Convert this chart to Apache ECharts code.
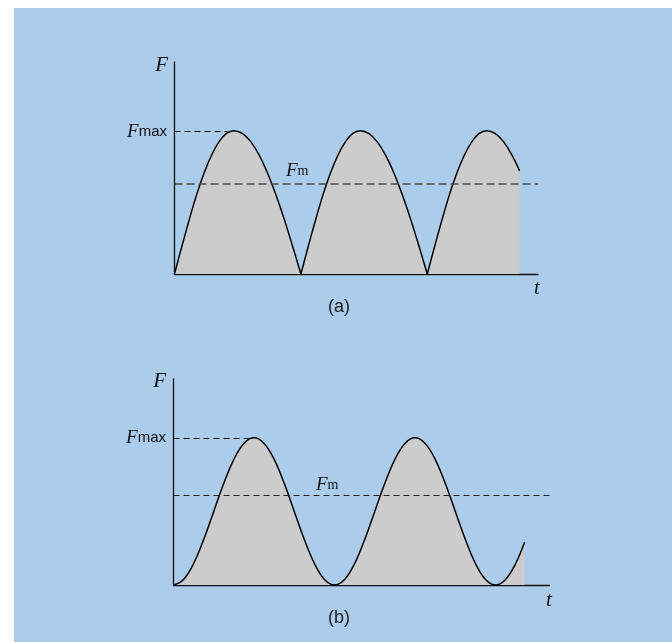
<!DOCTYPE html>
<html>
<head>
<meta charset="utf-8">
<script src="https://cdn.jsdelivr.net/npm/echarts@6/dist/echarts.min.js"></script>
<style>
  body { margin: 0; background: #fff; }
  #panel { position: absolute; left: 14px; top: 8px; width: 658px; height: 634px; background: #abcdeb; }
  #container { position: absolute; left: 0; top: 0; width: 672px; height: 642px; }
</style>
</head>
<body>
<div id="panel"></div>
<div id="container"></div>
<script>
// (a) full-wave rectified force (t in half-periods, F / Fmax)
var tA = [0, 0.059, 0.118, 0.176, 0.235, 0.294, 0.353, 0.411, 0.47, 0.536, 0.603, 0.669, 0.735, 0.801, 0.868, 0.934, 1,
  1.059, 1.118, 1.176, 1.235, 1.294, 1.353, 1.411, 1.47, 1.536, 1.603, 1.669, 1.735, 1.801, 1.868, 1.934, 2,
  2.059, 2.118, 2.176, 2.235, 2.294, 2.353, 2.411, 2.47, 2.536, 2.603, 2.669, 2.73];
var fA = [0, 0.195, 0.383, 0.556, 0.707, 0.831, 0.924, 0.981, 1.00, 0.981, 0.924, 0.831, 0.707, 0.556, 0.383, 0.195, 0,
  0.195, 0.383, 0.556, 0.707, 0.831, 0.924, 0.981, 1.00, 0.981, 0.924, 0.831, 0.707, 0.556, 0.383, 0.195, 0,
  0.195, 0.383, 0.556, 0.707, 0.831, 0.924, 0.981, 1.00, 0.981, 0.924, 0.831, 0.72];
var fmaxA = 1, fmeanA = 0.63, dashEndA = 0.42, xMaxA = 2.876, yMaxA = 1.48;

// (b) pulsating force (t in periods)
var tB = [0, 0.0625, 0.125, 0.1875, 0.25, 0.3125, 0.375, 0.4375, 0.5, 0.5625, 0.625, 0.6875, 0.75, 0.8125, 0.875, 0.9375, 1,
  1.0625, 1.125, 1.1875, 1.25, 1.3125, 1.375, 1.4375, 1.5, 1.5625, 1.625, 1.6875, 1.75, 1.8125, 1.875, 1.9375, 2,
  2.0625, 2.125, 2.18];
var fB = [0, 0.038, 0.146, 0.309, 0.50, 0.691, 0.854, 0.962, 1.00, 0.962, 0.854, 0.691, 0.50, 0.309, 0.146, 0.038, 0,
  0.038, 0.146, 0.309, 0.50, 0.691, 0.854, 0.962, 1.00, 0.962, 0.854, 0.691, 0.50, 0.309, 0.146, 0.038, 0,
  0.038, 0.146, 0.29];
var fmaxB = 1, fmeanB = 0.61, dashEndB = 0.48, xMaxB = 2.335, yMaxB = 1.40;

var dom = document.getElementById('container');
var myChart = echarts.init(dom, null, { renderer: 'canvas' });

// split a curve into arches at its zeros so the cusps stay sharp
function arches(xs, ys) {
  var out = [], cur = [];
  xs.forEach(function (x, i) {
    cur.push([x, ys[i]]);
    if (ys[i] === 0 && cur.length > 1) {
      out.push(cur);
      cur = [[x, ys[i]]];
    }
  });
  if (cur.length > 1) out.push(cur);
  return out;
}

function axis(max, idx) {
  return {
    type: 'value', min: 0, max: max, gridIndex: idx,
    axisLine: { show: true, lineStyle: { color: '#111', width: 1.3 } },
    axisTick: { show: false }, axisLabel: { show: false }, splitLine: { show: false }
  };
}

function piece(idx, data, smooth) {
  return {
    type: 'line', xAxisIndex: idx, yAxisIndex: idx,
    data: data, smooth: smooth, showSymbol: false, silent: true,
    lineStyle: { color: '#000', width: 1.5 },
    areaStyle: { color: '#cccccc', opacity: 1 }
  };
}

function guides(idx, fmax, fmean, dashEnd, xMax, meanStyle) {
  return {
    type: 'line', xAxisIndex: idx, yAxisIndex: idx, data: [], silent: true,
    markLine: {
      silent: true, symbol: 'none', label: { show: false }, z: 5,
      data: [
        [{ coord: [0, fmax], lineStyle: { color: '#111', width: 1, type: [6, 4] } }, { coord: [dashEnd, fmax] }],
        [{ coord: [0, fmean], lineStyle: meanStyle }, { coord: [xMax, fmean] }]
      ]
    }
  };
}

var series = [];
arches(tA, fA).forEach(function (d) { series.push(piece(0, d, 0.4)); });
series.push(piece(1, tB.map(function (x, i) { return [x, fB[i]]; }), 0.4));
series.push(guides(0, fmaxA, fmeanA, dashEndA, xMaxA, { color: '#4a4a4a', width: 1.5, type: [8, 4] }));
series.push(guides(1, fmaxB, fmeanB, dashEndB, xMaxB, { color: '#222', width: 1.1, type: [6, 4] }));

var rich = {
  f: { fontFamily: 'Liberation Serif', fontStyle: 'italic', fontSize: 21, fill: '#111' },
  fs: { fontFamily: 'Liberation Serif', fontStyle: 'italic', fontSize: 19, fill: '#111' },
  s: { fontFamily: 'Liberation Sans', fontSize: 15, fill: '#111' },
  m: { fontFamily: 'Liberation Serif', fontSize: 14, fill: '#111' }
};

function txt(text, x, y, align) {
  return {
    type: 'text', x: x, y: y, silent: true,
    style: { text: text, rich: rich, align: align, verticalAlign: 'middle' }
  };
}

function plain(text, x, y) {
  return {
    type: 'text', x: x, y: y, silent: true,
    style: { text: text, font: '18px "Liberation Sans"', fill: '#222', align: 'center', verticalAlign: 'middle' }
  };
}

var option = {
  animation: false,
  grid: [
    { left: 174.5, top: 62, width: 363.5, height: 212 },
    { left: 173.5, top: 379, width: 376, height: 206 }
  ],
  xAxis: [axis(xMaxA, 0), axis(xMaxB, 1)],
  yAxis: [axis(yMaxA, 0), axis(yMaxB, 1)],
  series: series,
  graphic: [
    txt('{f|F}', 168, 65, 'right'),
    txt('{fs|F}{s|max}', 167, 132, 'right'),
    txt('{fs|F}{m|m}', 286, 171, 'left'),
    txt('{f|t}', 537, 288, 'center'),
    plain('(a)', 339, 307),
    txt('{f|F}', 166, 381, 'right'),
    txt('{fs|F}{s|max}', 166, 438, 'right'),
    txt('{fs|F}{m|m}', 316, 485, 'left'),
    txt('{f|t}', 549, 600, 'center'),
    plain('(b)', 339, 618)
  ]
};

myChart.setOption(option);
window.addEventListener('resize', myChart.resize);
</script>
</body>
</html>
